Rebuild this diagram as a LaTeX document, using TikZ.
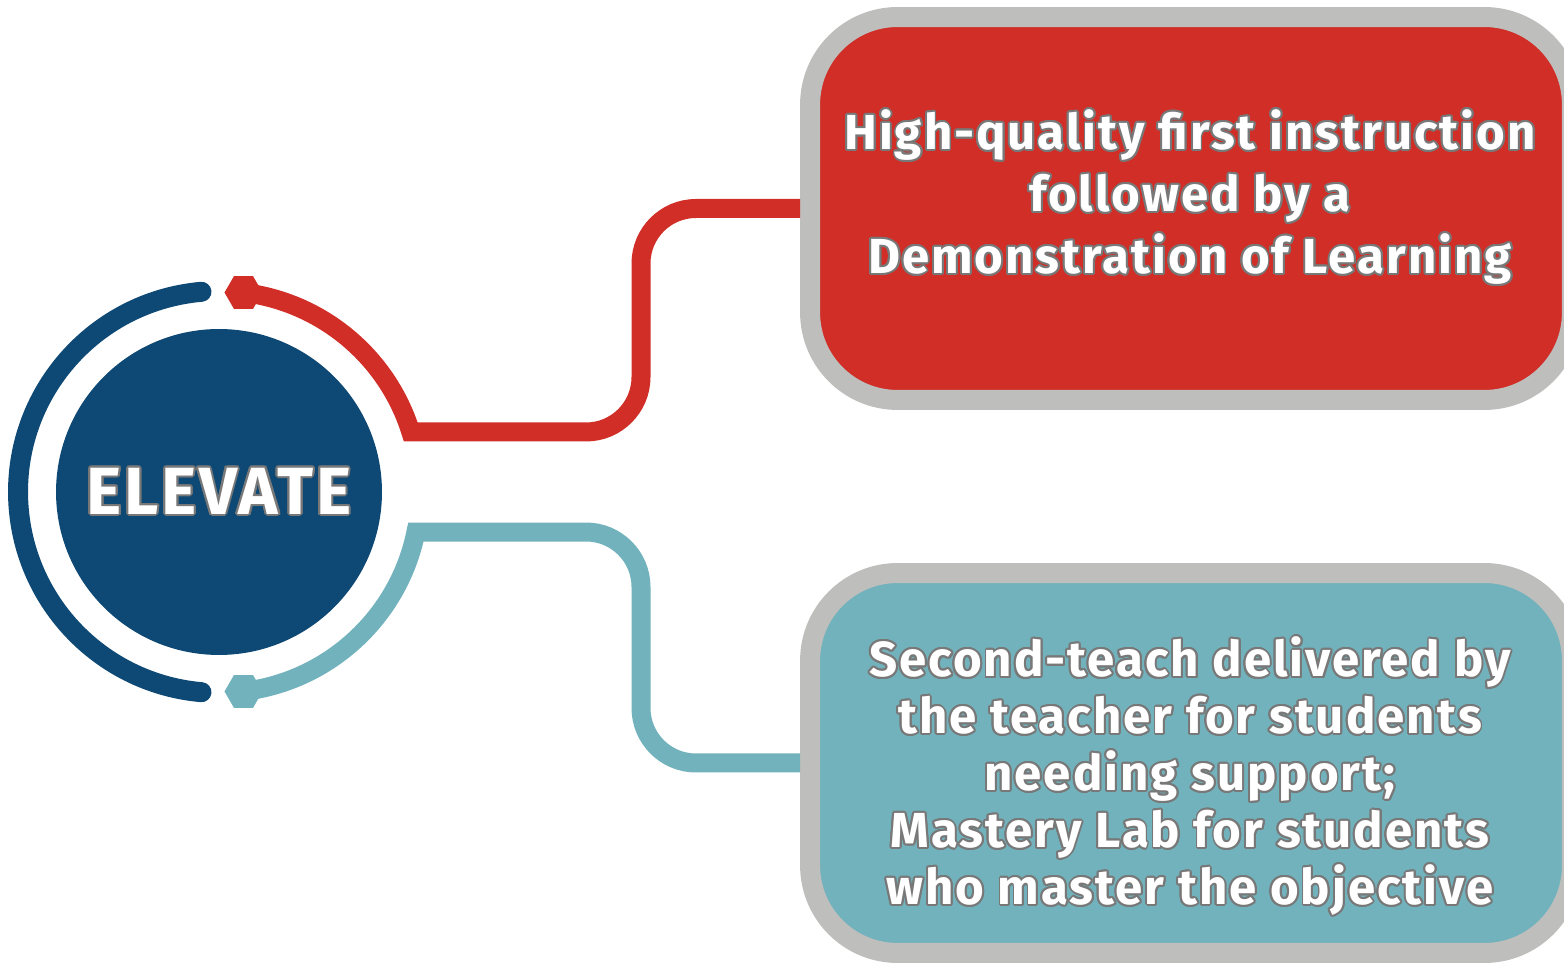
\documentclass[tikz,border=0pt]{standalone}
\usepackage{tikz}
\usetikzlibrary{shapes.geometric}
\usepackage{fontspec}
\setmainfont{Fira Sans}[LetterSpace=4]
\usepackage{contour}
\contourlength{1.1pt}
\definecolor{navy}{RGB}{13,73,116}
\definecolor{brickred}{RGB}{208,46,39}
\definecolor{tealblue}{RGB}{114,178,188}
\definecolor{framegray}{RGB}{190,190,188}
\definecolor{outlinegray}{RGB}{120,120,120}
\newcommand{\outl}[1]{\contour{outlinegray}{#1}}

\begin{document}
\begin{tikzpicture}[x=0.02cm,y=0.02cm,
		box/.style={draw=framegray,line width=0.4cm,rounded corners=1.75cm,minimum width=15.24cm,inner sep=0pt},
		hexa/.style={regular polygon,regular polygon sides=6,minimum size=0.76cm,inner sep=0pt},
		labeltext/.style={text=white,align=center,inner sep=0pt}]
		\useasboundingbox (0,0) rectangle (1564,963);
		\clip (0,0) rectangle (1564,963);
		\coordinate (c) at (219,471);
		\coordinate (t_red) at (1190,765);
		\coordinate (t_teal) at (1190,186);
		\node[circle,fill=navy,minimum size=6.52cm,inner sep=0pt,labeltext,font=\fontsize{38}{42}\selectfont\bfseries] (hub) at (c) {\outl{ELEVATE}};
		\node[hexa,fill=brickred] (hex_red) at ([shift={(83:4.02cm)}]c) {};
		\node[hexa,fill=tealblue] (hex_teal) at ([shift={(-83:4.02cm)}]c) {};
		\node[box,fill=brickred,minimum height=7.66cm] (box_red) at (1191,754.5) {};
		\node[box,fill=tealblue,minimum height=7.6cm] (box_teal) at (1191,200) {};
	
		\draw [navy,line width=0.4cm,line cap=round]([shift={(95:4.02cm)}]c) arc[start angle=95,end angle=265,radius=4.02cm];
		\draw [brickred,line width=0.38cm](hex_red.center) arc[start angle=83,end angle=17.4,radius=4.02cm] [rounded corners=1.1cm] -- (641,531) -- (641,0 |- box_red.west) -- (box_red.west);
		\draw [tealblue,line width=0.38cm](hex_teal.center) arc[start angle=-83,end angle=-11.5,radius=4.02cm] [rounded corners=1.1cm] -- (641,431) -- (641,0 |- box_teal.west) -- (box_teal.west);
	
		\node[labeltext,font=\fontsize{28}{35.3}\selectfont\bfseries] (lbl_red) at (t_red) {\outl{High-quality first instruction}\\\outl{followed by a}\\\outl{Demonstration of Learning}};
		\node[labeltext,font=\fontsize{28}{32.4}\selectfont\bfseries] (lbl_teal) at (t_teal) {\outl{Second-teach delivered by}\\\outl{the teacher for students}\\\outl{needing support;}\\\outl{Mastery Lab for students}\\\outl{who master the objective}};
	\end{tikzpicture}
\end{document}
